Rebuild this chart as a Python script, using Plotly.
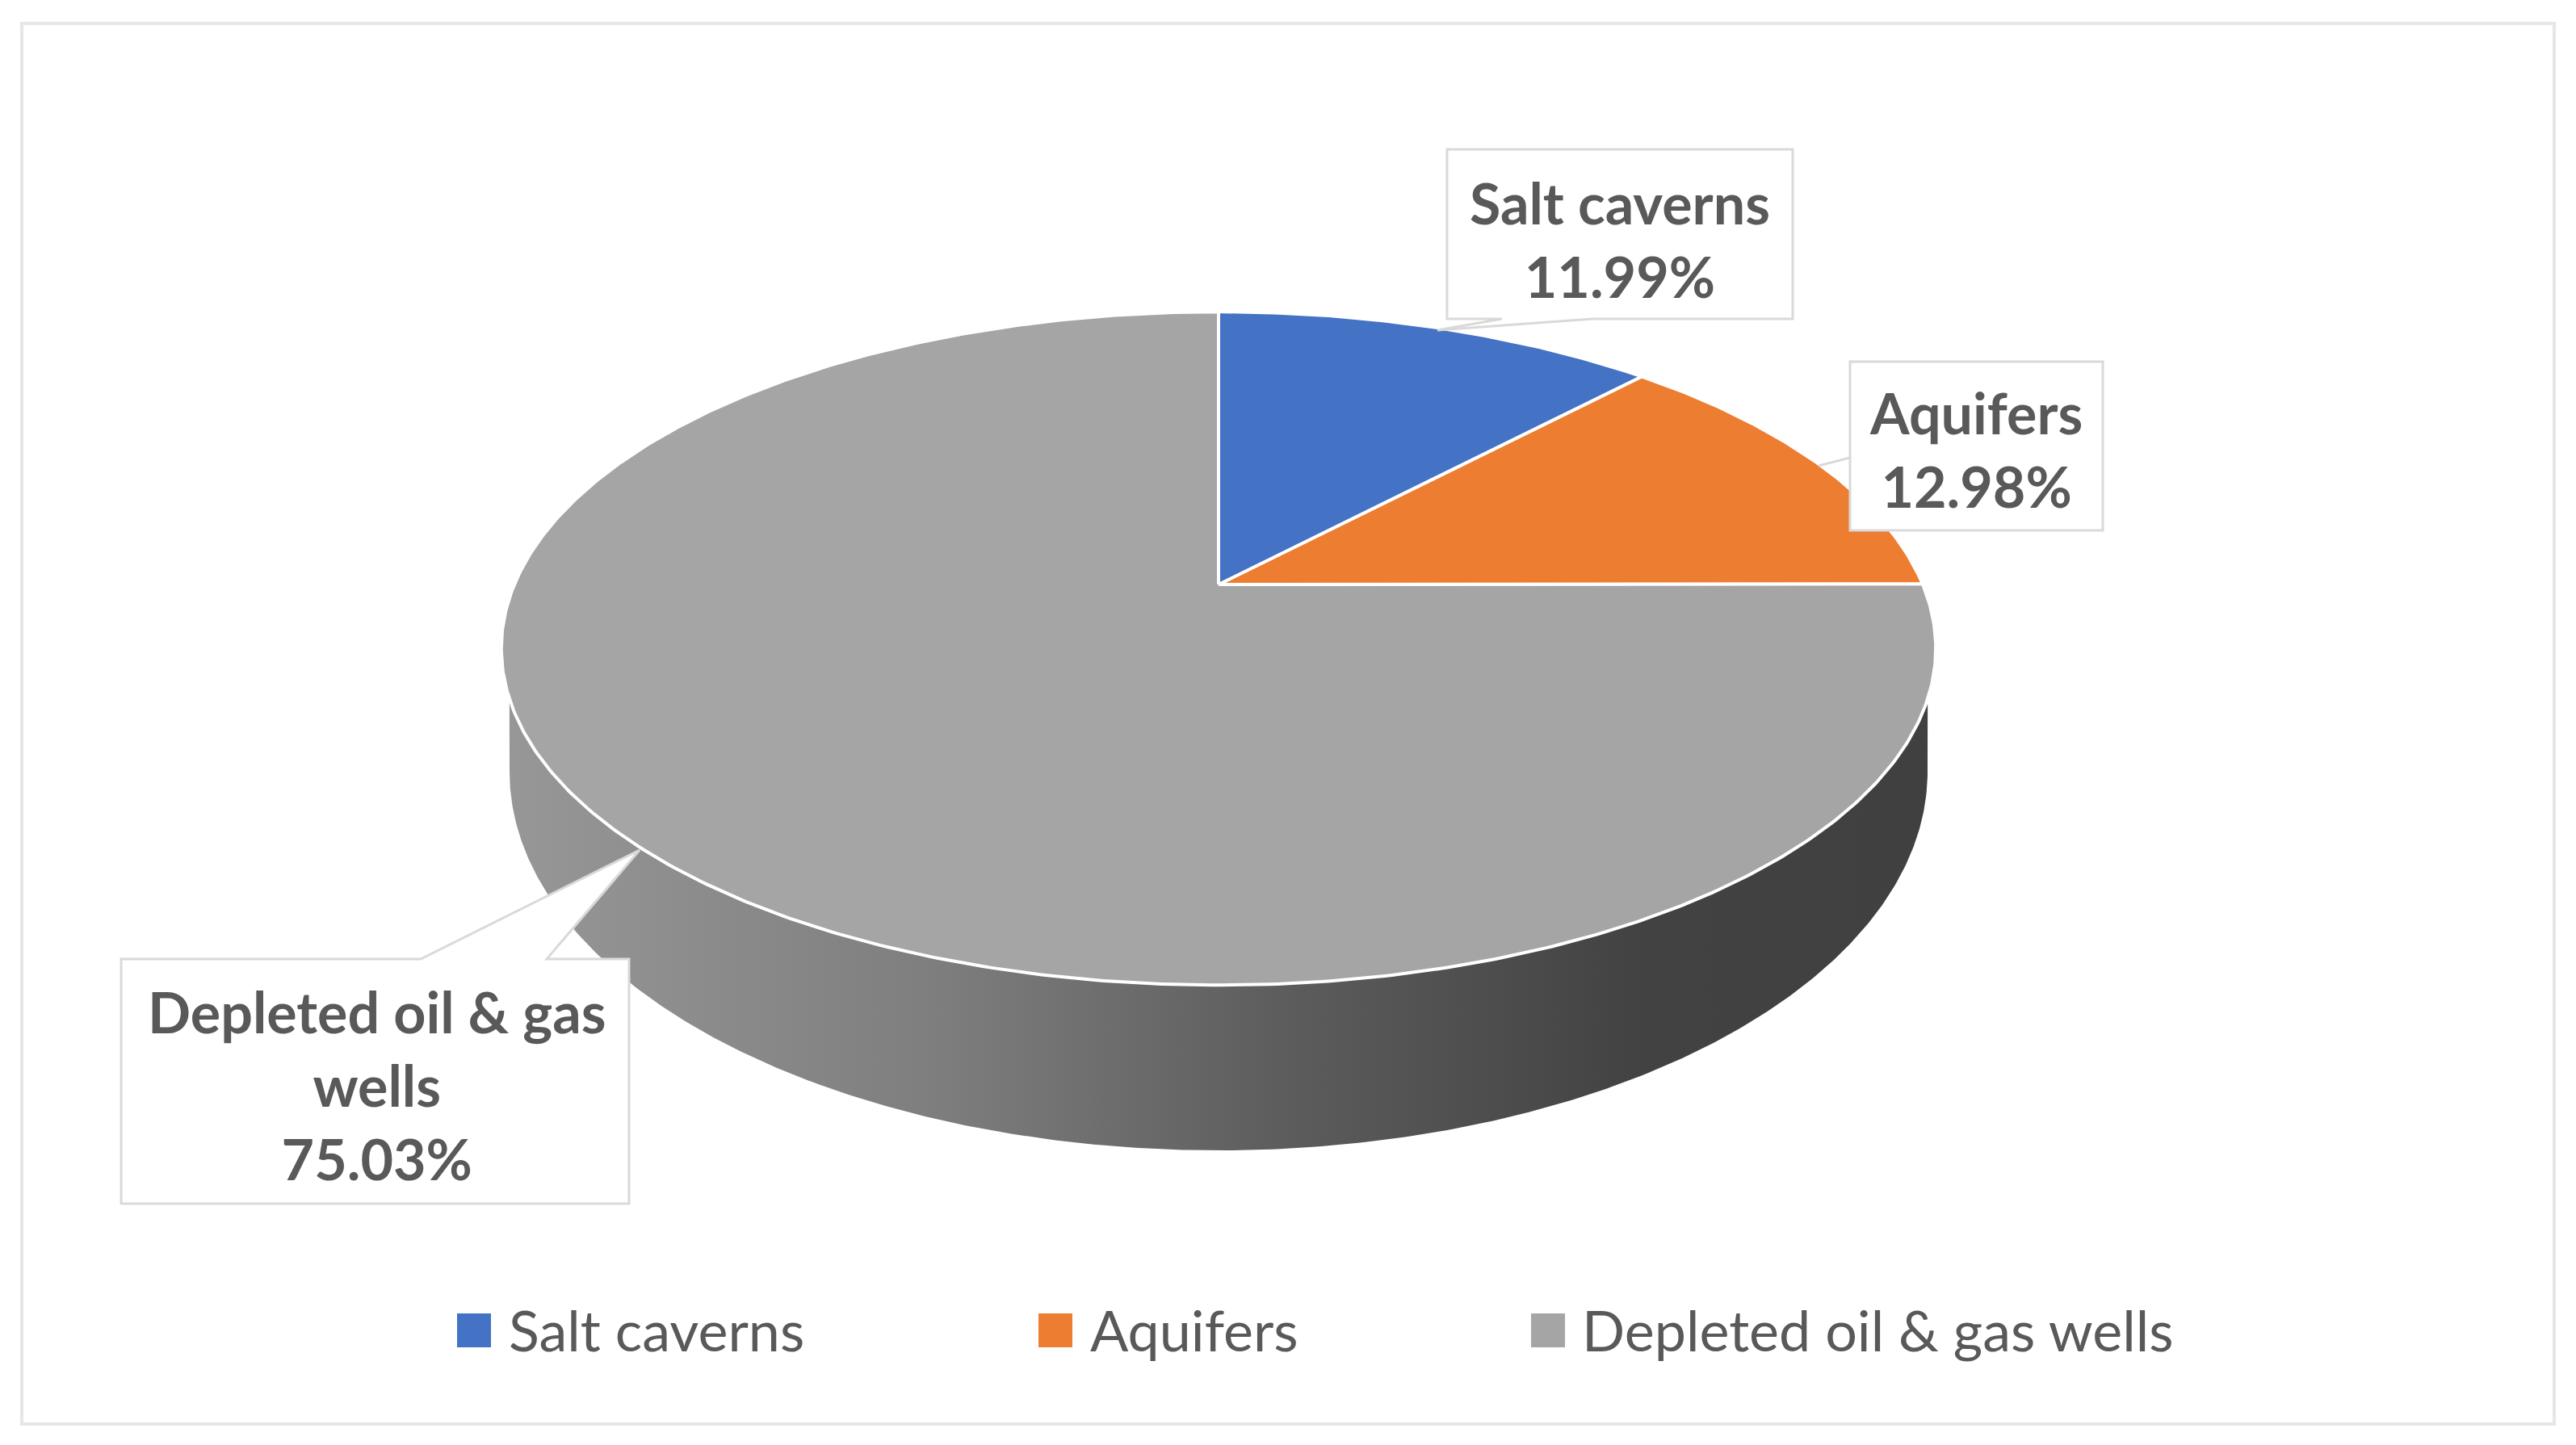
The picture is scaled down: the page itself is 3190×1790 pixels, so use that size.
import numpy as np
import plotly.graph_objects as go

categories = ["Salt caverns", "Aquifers", "Depleted oil & gas wells"]
shares = [11.99, 12.98, 75.03]
slice_colors = ["#4472C4", "#ED7D31", "#A5A5A5"]
label_lines = [["Salt caverns"], ["Aquifers"], ["Depleted oil & gas", "wells"]]

TEXT_COLOR = "#595959"
FONT = "Lato"
EDGE = "#D9D9D9"

# body margin of the page is 8px, so the figure is 16px smaller than the window
OFFSET = 8
WIDTH, HEIGHT = 3190, 1790

# perspective disc: apex of the slices sits above the centre of the ellipse
APEX_X, APEX_Y = 1509, 724
DISC_A, DISC_B, TILT = 872, 402, 0.19
# lower rim of the pie side
RIM_CX, RIM_CY, RIM_A, RIM_B = 1509, 956, 878, 469
SIDE_TOP_Y = 865


def disc_point(turn):
    """Point of the disc edge for a clockwise angle in radians from 12 o'clock."""
    u, v = np.sin(turn), np.cos(turn)
    den = 1 + TILT * v
    return APEX_X + DISC_A * u / den, APEX_Y - DISC_B * v / den


def slice_outline(start, end):
    turns = np.linspace(start, end, max(int((end - start) * 120), 2))
    x, y = disc_point(turns)
    return [APEX_X, *x, APEX_X], [APEX_Y, *y, APEX_Y]


def side_outline():
    # top edge of the side follows the disc, bottom edge follows the rim
    turns = np.linspace(0, 2 * np.pi, 1200)
    x, y = disc_point(turns)
    front = (y >= SIDE_TOP_Y)
    right = turns < np.pi
    top_x = np.concatenate([x[front & right], x[front & ~right]])
    top_y = np.concatenate([y[front & right], y[front & ~right]])
    rim_t = np.linspace(np.pi, 0, 400)
    rim_x = RIM_CX + RIM_A * np.cos(rim_t)
    rim_y = RIM_CY + RIM_B * np.sin(rim_t)
    return [*top_x, *rim_x, top_x[0]], [*top_y, *rim_y, top_y[0]]


fig = go.Figure()

side_x, side_y = side_outline()
fig.add_trace(
    go.Scatter(
        x=side_x,
        y=side_y,
        mode="lines",
        fill="toself",
        line=dict(width=0),
        fillgradient=dict(
            type="horizontal",
            colorscale=[
                [0.0, "#979797"],
                [0.3, "#7E7E7E"],
                [0.55, "#5C5C5C"],
                [0.8, "#424242"],
                [1.0, "#404040"],
            ],
        ),
        hoverinfo="skip",
    )
)

# slices are drawn back to front, the big grey one first
edges = np.cumsum([0] + shares) / sum(shares) * 2 * np.pi
for i in (2, 1, 0):
    x, y = slice_outline(edges[i], edges[i + 1])
    fig.add_trace(
        go.Scatter(
            x=x,
            y=y,
            mode="lines",
            fill="toself",
            fillcolor=slice_colors[i],
            line=dict(color="white", width=4),
            name=categories[i],
            hoverinfo="skip",
        )
    )

# callouts: box plus pointer
callouts = [
    dict(d="M1792 185 H2220 V395 H1972 L1780 409 L1860 395 H1792 Z", cx=2006, cy=296),
    dict(d="M2291 448 H2604 V657 H2291 V621 L2291 567 L2252 577 L2291 567 Z", cx=2447, cy=556),
    dict(d="M150 1188 H521 L792 1053 L677 1188 H779 V1491 H150 Z", cx=467, cy=1344),
]
for box in callouts:
    fig.add_shape(
        type="path",
        path=box["d"],
        fillcolor="white",
        line=dict(color=EDGE, width=3),
        layer="above",
    )

for i, box in enumerate(callouts):
    text = "<br>".join(label_lines[i] + [f"{shares[i]:.2f}%"])
    fig.add_annotation(
        x=box["cx"],
        y=box["cy"],
        text=f"<b>{text}</b>",
        showarrow=False,
        xanchor="center",
        yanchor="middle",
        align="center",
        font=dict(family=FONT, size=70, color=TEXT_COLOR),
    )

# legend row
legend_x = [587, 1307, 1917]
legend_text_x = [628, 1348, 1957]
LEGEND_Y = 1647
fig.add_trace(
    go.Scatter(
        x=legend_x,
        y=[1648] * 3,
        mode="markers",
        marker=dict(symbol="square", size=42, color=slice_colors, line=dict(width=0)),
        hoverinfo="skip",
    )
)
for name, tx in zip(categories, legend_text_x):
    fig.add_annotation(
        x=tx,
        y=LEGEND_Y,
        text=name,
        showarrow=False,
        xanchor="left",
        yanchor="middle",
        font=dict(family=FONT, size=70, color=TEXT_COLOR),
    )

# thin frame round the whole chart
fig.add_shape(
    type="rect",
    x0=27,
    x1=3163,
    y0=29,
    y1=1764,
    line=dict(color="#E6E6E6", width=4),
    layer="below",
)

fig.update_xaxes(visible=False, range=[OFFSET, WIDTH - OFFSET])
fig.update_yaxes(visible=False, range=[HEIGHT - OFFSET, OFFSET])
fig.update_layout(
    width=WIDTH - 2 * OFFSET,
    height=HEIGHT - 2 * OFFSET,
    margin=dict(l=0, r=0, t=0, b=0),
    paper_bgcolor="white",
    plot_bgcolor="white",
    showlegend=False,
)

fig.write_html("out.html")
